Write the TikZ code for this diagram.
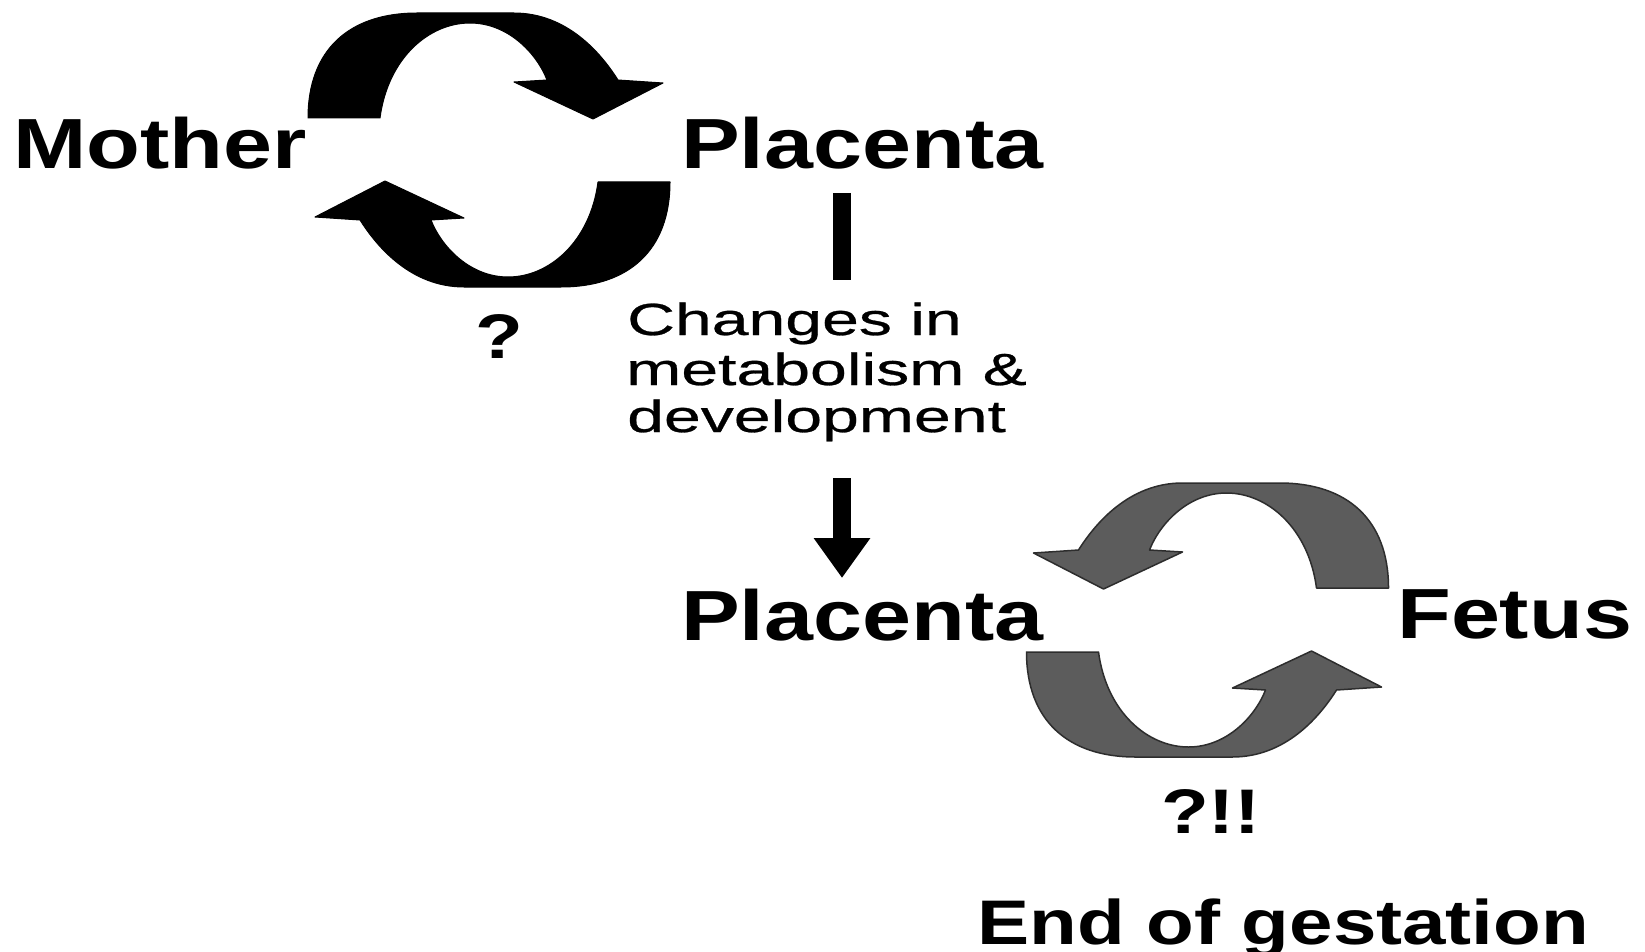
\documentclass[tikz,border=0pt]{standalone}
\usepackage{fontspec}
\setmainfont{Liberation Sans}
\newfontfamily\bigfont[FakeStretch=1.24]{Liberation Sans}
\newfontfamily\smallfont[FakeStretch=1.47,FakeBold=0.6]{Liberation Sans}
\usetikzlibrary{arrows.meta}
\definecolor{cycgray}{RGB}{92,92,92}
\definecolor{cycedge}{RGB}{45,45,45}
\newcommand\halfcycle[1]{%
  \filldraw[#1] (-181,-32) .. controls (-181,-100) and (-140,-137) .. (-72,-137)
    -- (25,-137) .. controls (78,-137) and (112,-97) .. (129,-70)
    -- (174,-67) -- (104,-31) -- (25,-68) -- (58,-70)
    .. controls (47,-98) and (18,-127) .. (-19,-127)
    .. controls (-60,-127) and (-101,-92) .. (-109,-32)
    -- cycle;}
\begin{document}
\begin{tikzpicture}[x=1pt,y=-1pt,
  bigtext/.style={inner sep=0pt, anchor=base west, font=\bigfont\bfseries\fontsize{71}{71}\selectfont},
  qtext/.style={inner sep=0pt, anchor=base west, font=\bigfont\bfseries\fontsize{63}{63}\selectfont},
  endtext/.style={inner sep=0pt, anchor=base west, font=\bigfont\bfseries\fontsize{63}{63}\selectfont},
  smalltext/.style={inner sep=0pt, anchor=base west, font=\smallfont\fontsize{45}{45}\selectfont},
  blackarrow/.style={fill=black, draw=black, line width=1pt, line join=round},
  grayarrow/.style={fill=cycgray, draw=cycedge, line width=1.5pt, line join=round}]
\useasboundingbox[fill=white] (0,0) rectangle (1645,952);

% top cycle
\begin{scope}[shift={(489,150)}]
  \halfcycle{blackarrow}
  \begin{scope}[rotate=180]
    \halfcycle{blackarrow}
  \end{scope}
\end{scope}

% bottom cycle (mirrored)
\begin{scope}[shift={(1207.5,620)}, xscale=-1]
  \halfcycle{grayarrow}
  \begin{scope}[rotate=180]
    \halfcycle{grayarrow}
  \end{scope}
\end{scope}

% texts
\node[bigtext] (mother) at (13,168) {Mother};
\node[bigtext] (ptop) at (681,168) {Placenta};
\node[qtext] (q1) at (475,358) {?};
\node[smalltext] (chg1) at (627,335) {Changes in};
\node[smalltext] (chg2) at (626,385) {metabolism \&};
\node[smalltext] (chg3) at (627,432) {development};
\node[bigtext] (pbot) at (681,640) {Placenta};
\node[bigtext] (fetus) at (1397,638) {Fetus};
\node[qtext] (q2) at (1161,833) {?!!};
\node[endtext] (end) at (977,944) {End of gestation};

% connectors
\coordinate (bartop) at (842,193);
\coordinate (barbot) at (842,280);
\coordinate (arrtop) at (842,478);
\coordinate (arrtip) at (842,578);
\draw[line width=18pt] (bartop) -- (barbot);
\draw[line width=18pt, -{Triangle[width=54pt,length=40pt]}] (arrtop) -- (arrtip);
\end{tikzpicture}
\end{document}
